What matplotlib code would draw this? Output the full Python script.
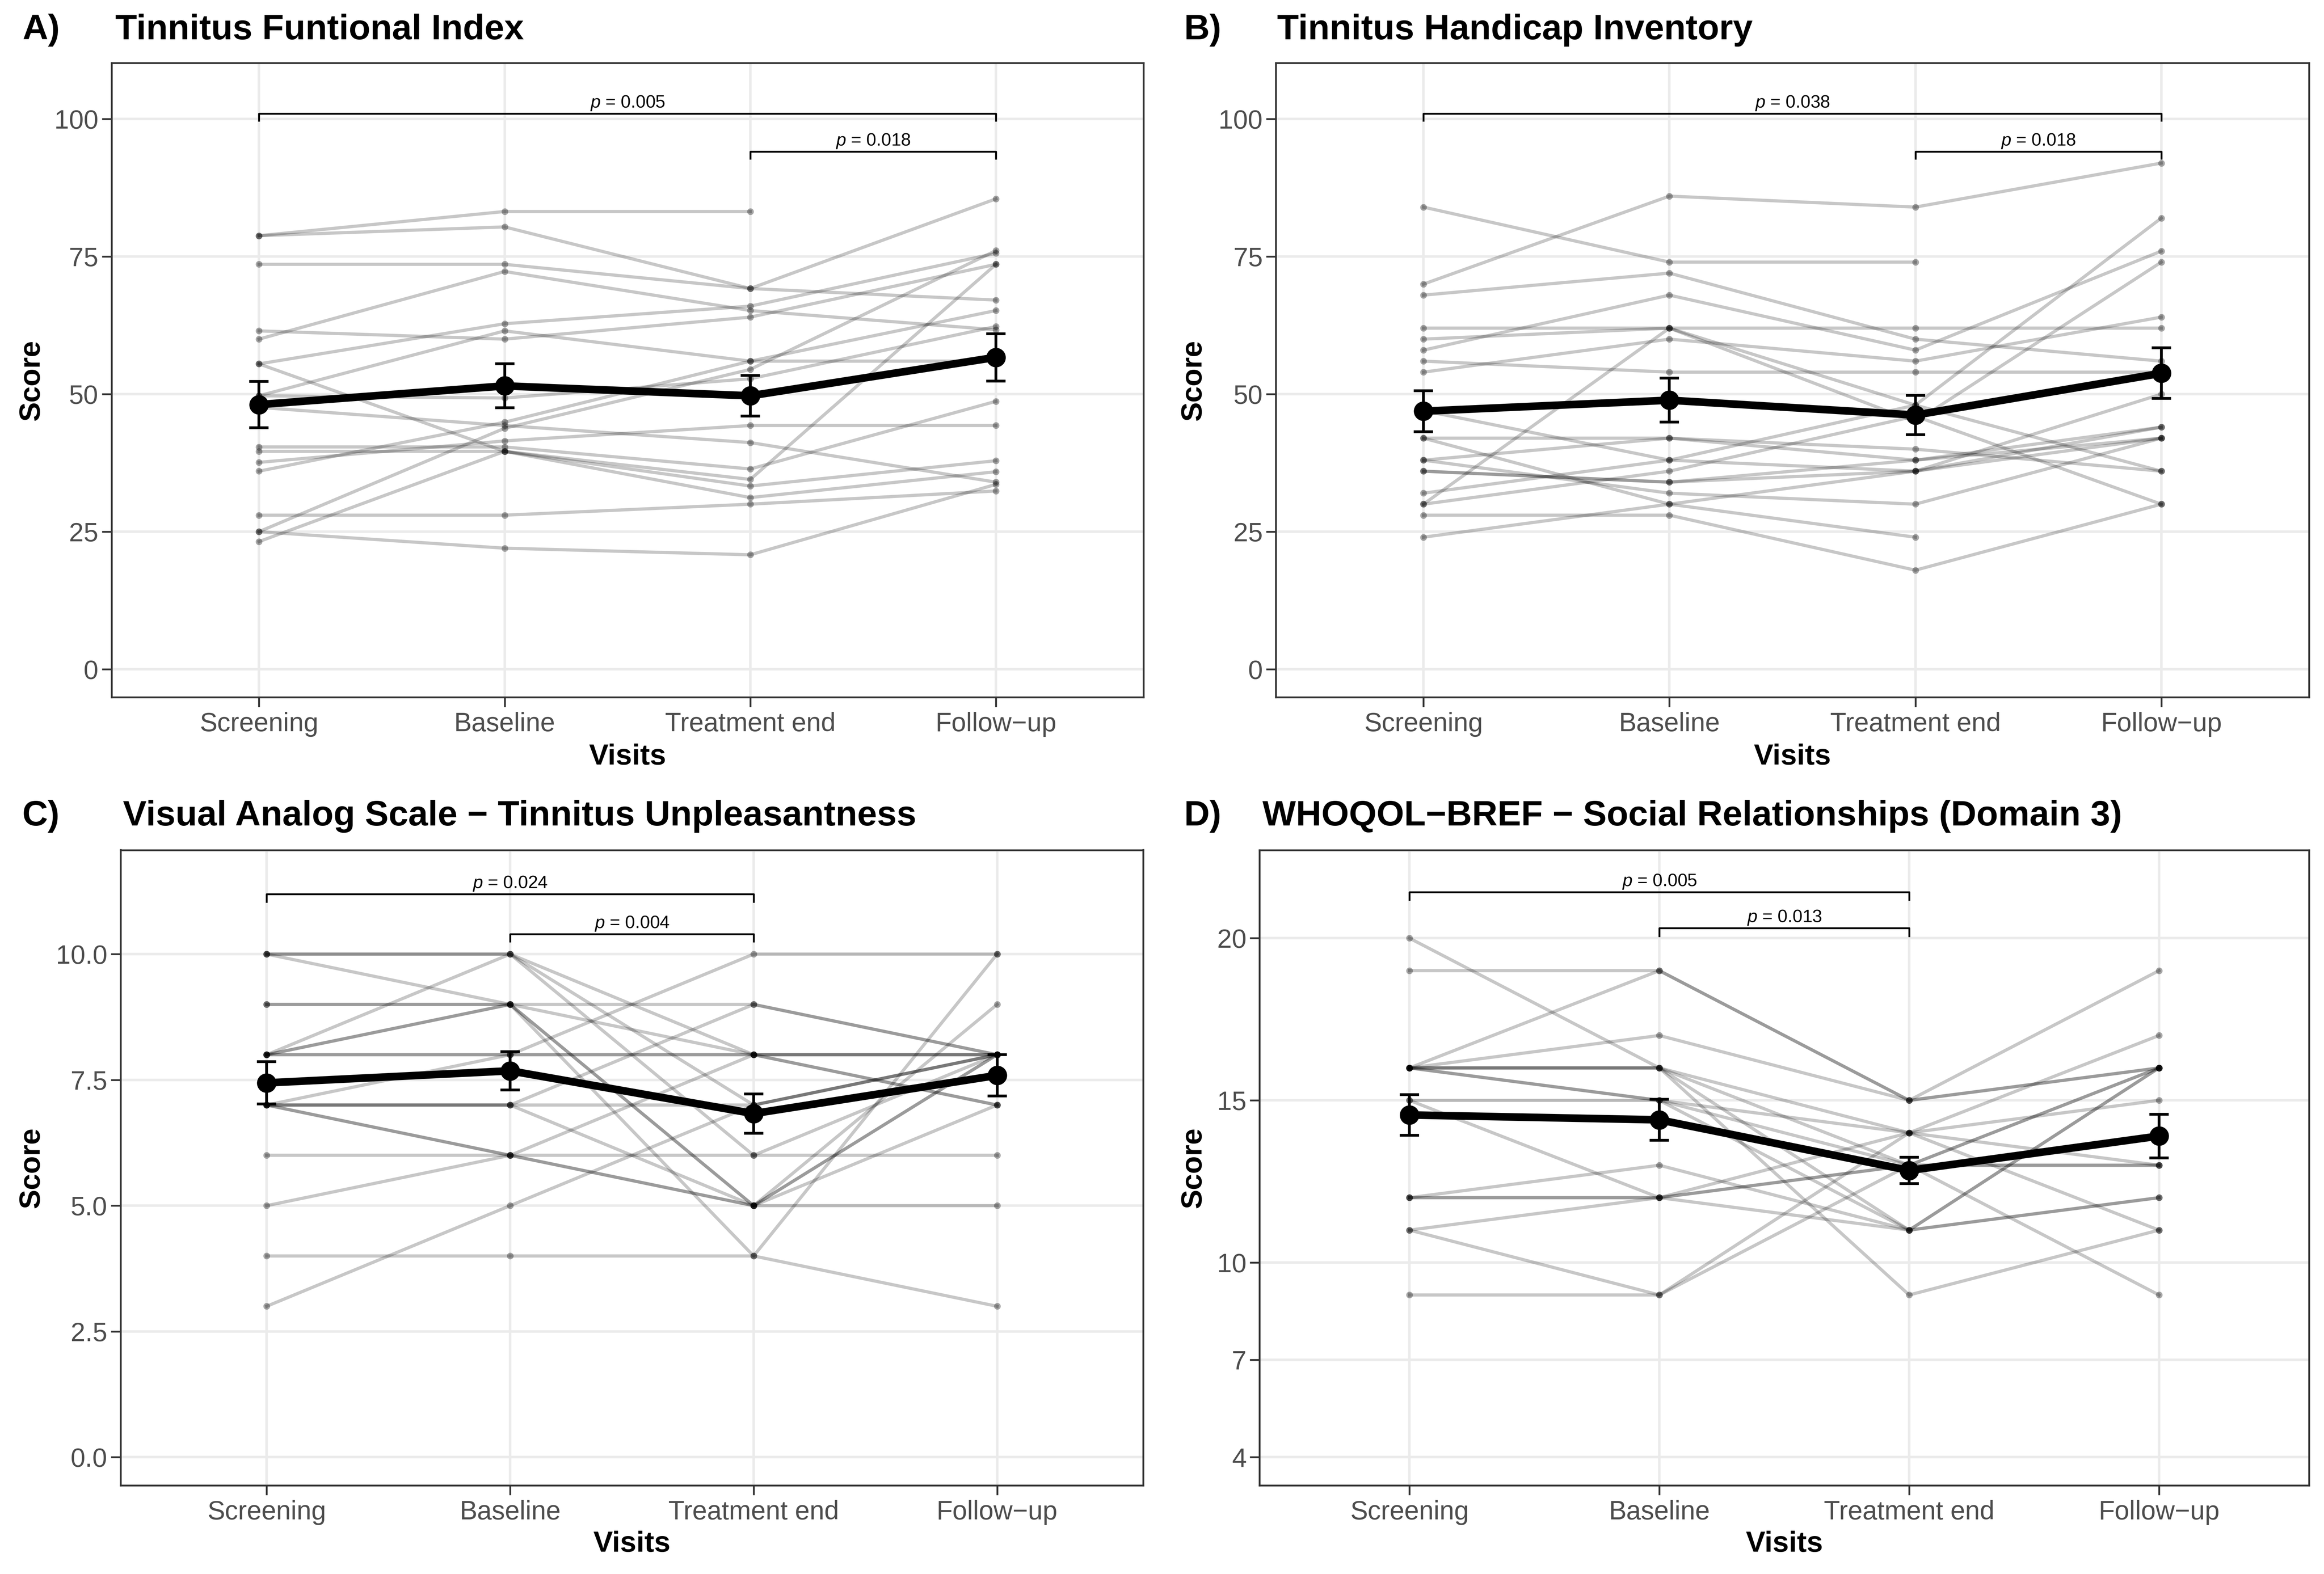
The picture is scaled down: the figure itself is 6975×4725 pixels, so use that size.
import numpy as np
import matplotlib
matplotlib.use("Agg")
import matplotlib.pyplot as plt
from matplotlib.transforms import blended_transform_factory

plt.rcParams['font.family'] = ['Liberation Sans', 'DejaVu Sans']
plt.rcParams['mathtext.fontset'] = 'custom'
plt.rcParams['mathtext.it'] = 'Liberation Sans:italic'
plt.rcParams['mathtext.rm'] = 'Liberation Sans'

visits = ["Screening", "Baseline", "Treatment end", "Follow\u2212up"]

# ---------- A) Tinnitus Functional Index: one row per subject (S, B, TE, FU) ----------
tfi_scores = [
    [78.8, 83.2, 83.2, np.nan],
    [78.8, 80.4, 69.2, 85.5],
    [73.6, 73.6, 69.2, 67.1],
    [60.0, 72.3, 65.2, 61.7],
    [55.5, 62.8, 66.0, 75.6],
    [61.5, 60.0, 64.0, 73.6],
    [49.7, 61.5, 56.0, 65.2],
    [49.7, 49.3, 52.8, 62.3],
    [47.6, 44.3, 41.2, 34.0],
    [40.4, 40.4, 36.4, 48.7],
    [39.6, 39.6, 34.5, 73.6],
    [55.5, 39.6, 33.3, 37.9],
    [23.2, 39.6, 31.2, 35.9],
    [37.6, 41.5, 44.3, 44.3],
    [36.0, 44.9, 56.0, 56.0],
    [25.0, 43.8, 54.5, 76.1],
    [28.0, 28.0, 30.0, 32.4],
    [25.0, 22.0, 20.8, 33.6],
]
tfi_mean = [48.1, 51.5, 49.7, 56.7]
tfi_se = [4.2, 4.0, 3.7, 4.3]
tfi_pairs = [(0, 3), (2, 3)]
tfi_p = ["0.005", "0.018"]

# ---------- B) Tinnitus Handicap Inventory ----------
thi_scores = [
    [84, 74, 74, np.nan],
    [70, 86, 84, 92],
    [68, 72, 60, 56],
    [58, 68, 58, 76],
    [62, 62, 62, 62],
    [60, 62, 48, 82],
    [30, 62, 45, 74],
    [54, 60, 56, 64],
    [56, 54, 54, 54],
    [47, 38, 36, 50],
    [42, 42, 40, 36],
    [42, 30, 24, np.nan],
    [38, 42, 38, 44],
    [38, 32, 30, 42],
    [36, 34, 36, 44],
    [36, 34, 38, 42],
    [32, 38, 48, 36],
    [30, 36, 46, 30],
    [28, 28, 18, 30],
    [24, 30, 36, 42],
]
thi_mean = [46.9, 48.9, 46.2, 53.8]
thi_se = [3.7, 4.0, 3.6, 4.6]
thi_pairs = [(0, 3), (2, 3)]
thi_p = ["0.038", "0.018"]

# ---------- C) VAS tinnitus unpleasantness ----------
vas_scores = [
    [10, 10, 8, 8],
    [10, 9, 5, 8],
    [9, 9, 9, 8],
    [9, 9, 8, 7],
    [8, 10, 7, 8],
    [8, 9, 4, 10],
    [8, 8, 10, 10],
    [8, 8, 8, 8],
    [7, 8, 8, 8],
    [7, 7, 9, 8],
    [7, 7, 7, 8],
    [7, 6, 5, 5],
    [6, 6, 6, 6],
    [5, 6, 8, 7],
    [4, 4, 4, 3],
    [3, 5, 7, 8],
    [7, 7, 5, 9],
    [10, 10, 6, 8],
    [8, 9, 5, 8],
    [7, 6, 5, 7],
]
vas_mean = [7.44, 7.68, 6.83, 7.59]
vas_se = [0.42, 0.38, 0.39, 0.41]
vas_pairs = [(0, 2), (1, 2)]
vas_p = ["0.024", "0.004"]

# ---------- D) WHOQOL-BREF domain 3 ----------
who_scores = [
    [20, 16, 11, 16],
    [19, 19, 15, 16],
    [16, 19, 15, 19],
    [16, 17, 15, 16],
    [16, 16, 14, 17],
    [16, 16, 13, 13],
    [16, 15, 11, 12],
    [15, 15, 14, 15],
    [15, 12, 13, 9],
    [12, 13, 11, 12],
    [12, 12, 11, 16],
    [11, 12, 14, 13],
    [11, 9, 13, 16],
    [9, 9, 14, 11],
    [16, 16, 9, 11],
    [12, 12, 13, 16],
    [16, 15, 13, 13],
]
who_mean = [14.55, 14.4, 12.84, 13.9]
who_se = [0.63, 0.63, 0.41, 0.67]
who_pairs = [(0, 2), (1, 2)]
who_p = ["0.005", "0.013"]

W, H = 6975, 4725
fig = plt.figure(figsize=(W / 300, H / 300), dpi=300)

panels = [
    # letter, title, data, mean, se, pairs, p, rect, ylim, yticks, ticklabels, bracket y, bracket drop,
    # letter x, title x, title baseline y
    ("A)", "Tinnitus Funtional Index", tfi_scores, tfi_mean, tfi_se, tfi_pairs, tfi_p,
     [0.048, 0.557, 0.444, 0.403], (-5.1, 110.2), [0, 25, 50, 75, 100],
     ["0", "25", "50", "75", "100"], [101.0, 94.1], 1.3, 0.0096, 0.0496, 0.975),
    ("B)", "Tinnitus Handicap Inventory", thi_scores, thi_mean, thi_se, thi_pairs, thi_p,
     [0.549, 0.557, 0.4445, 0.403], (-5.1, 110.2), [0, 25, 50, 75, 100],
     ["0", "25", "50", "75", "100"], [101.0, 94.1], 1.3, 0.5095, 0.5495, 0.975),
    ("C)", "Visual Analog Scale \u2212 Tinnitus Unpleasantness", vas_scores, vas_mean, vas_se,
     vas_pairs, vas_p, [0.0519, 0.0563, 0.440, 0.4037], (-0.56, 12.07), [0, 2.5, 5, 7.5, 10],
     ["0.0", "2.5", "5.0", "7.5", "10.0"], [11.19, 10.40], 0.15, 0.0096, 0.0529, 0.4755),
    ("D)", "WHOQOL\u2212BREF \u2212 Social Relationships (Domain 3)", who_scores, who_mean, who_se,
     who_pairs, who_p, [0.542, 0.0563, 0.4515, 0.4037], (3.13, 22.72), [4, 7, 10, 15, 20],
     ["4", "7", "10", "15", "20"], [21.42, 20.31], 0.24, 0.5095, 0.5432, 0.4755),
]

x = np.arange(len(visits))

for (letter, title, scores, mean, se, pairs, pvals, rect, ylim, yticks, ylabels,
     bry, drop, lx, tx, ty) in panels:
    ax = fig.add_axes(rect)
    # individual subjects
    for row in scores:
        ax.plot(x, row, color="black", alpha=0.22, lw=2.3, zorder=2)
        ax.plot(x, row, "o", color="black", alpha=0.34, ms=4.8, mew=0, zorder=3)
    # mean +/- SE
    ax.errorbar(x, mean, yerr=se, fmt="none", ecolor="black", elinewidth=2.0,
                capsize=7, capthick=2.0, zorder=5)
    ax.plot(x, mean, "-o", color="black", lw=5.5, ms=13, zorder=6)
    # significance brackets
    for (i, j), p, yb in zip(pairs, pvals, bry):
        ax.plot([x[i], x[i], x[j], x[j]], [yb - drop, yb, yb, yb - drop],
                color="black", lw=1.3, zorder=7)
        ax.annotate(r"$\it{p}$ = " + p, xy=((x[i] + x[j]) / 2, yb), xytext=(0, 4.3),
                    textcoords="offset points", ha="center", va="baseline",
                    fontsize=12.8, zorder=8)

    ax.set_xlim(-0.6, 3.6)
    ax.set_ylim(*ylim)
    ax.set_xticks(x)
    ax.set_xticklabels(visits)
    ax.set_yticks(yticks)
    ax.set_yticklabels(ylabels)
    ax.grid(True, color="#EBEBEB", lw=1.8)
    ax.set_axisbelow(True)
    for s in ax.spines.values():
        s.set_color("#333333")
        s.set_linewidth(1.3)
    ax.tick_params(length=7, width=1.3, color="#333333", labelsize=19, labelcolor="#4D4D4D")
    ax.tick_params(axis="x", pad=3.5)
    ax.tick_params(axis="y", pad=2.5)

    ax.set_xlabel("Visits", fontsize=21, fontweight="bold")
    ax.set_ylabel("Score", fontsize=21, fontweight="bold")
    ax.xaxis.label.set_va("baseline")
    ax.yaxis.label.set_va("baseline")
    xlab_y = 0.5142 if ty > 0.9 else 0.0142
    ax.xaxis.set_label_coords(0.5, xlab_y, transform=blended_transform_factory(ax.transAxes, fig.transFigure))
    ylab_x = 0.0168 if lx < 0.1 else 0.5168
    ax.yaxis.set_label_coords(ylab_x, 0.5, transform=blended_transform_factory(fig.transFigure, ax.transAxes))

    fig.text(lx, ty, letter, fontsize=25.5, fontweight="bold", va="baseline")
    fig.text(tx, ty, title, fontsize=25.5, fontweight="bold", va="baseline")

fig.savefig("out.png", dpi=300)
